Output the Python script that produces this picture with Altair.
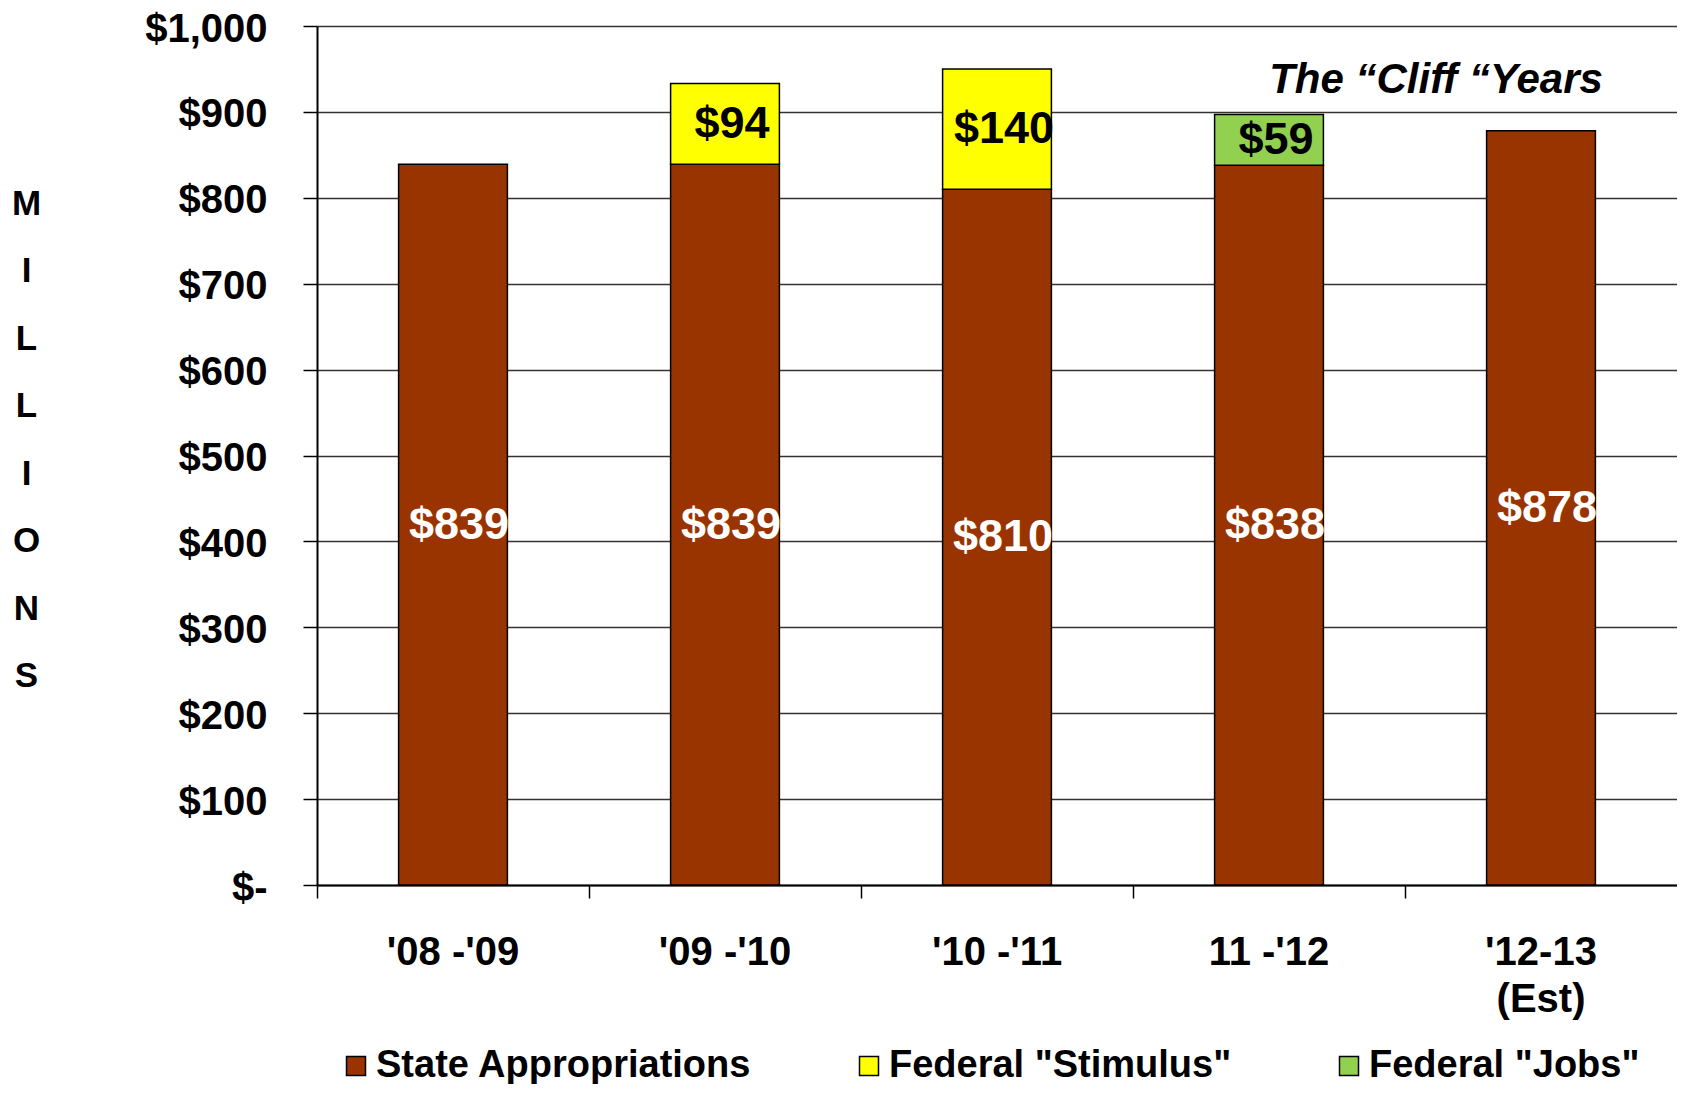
import altair as alt
import pandas as pd

# ---- data ----
categories = ["'08 -'09", "'09 -'10", "'10 -'11", "11 -'12", "'12-13|(Est)"]
state = [839, 839, 810, 838, 878]
stimulus = [0, 94, 140, 0, 0]
jobs = [0, 0, 0, 59, 0]
series_names = ["State Appropriations", 'Federal "Stimulus"', 'Federal "Jobs"']
series_colors = ["#993300", "#FFFF00", "#92D050"]
y_ticks = [0, 100, 200, 300, 400, 500, 600, 700, 800, 900, 1000]
y_title = ["M", "I", "L", "L", "I", "O", "N", "S"]
note_text = "The \u201cCliff \u201cYears"
note_cat = categories[4]
note_value = 937

rows = []
for i, c in enumerate(categories):
    for k, (name, vals) in enumerate(zip(series_names, [state, stimulus, jobs])):
        if vals[i] > 0:
            rows.append({"cat": c, "series": name, "value": vals[i], "order": k})
df = pd.DataFrame(rows)

FONT = "Liberation Sans"

x_scale = alt.Scale(domain=categories, paddingInner=0, paddingOuter=0)
y_scale = alt.Scale(domain=[0, 1000], nice=False, zero=True)

x_axis = alt.Axis(
    title=None,
    labelExpr="split(datum.label, '|')",
    labelAngle=0,
    labelFont=FONT,
    labelFontSize=40,
    labelFontWeight="bold",
    labelColor="black",
    labelPadding=34,
    labelLineHeight=47,
    labelBaseline="top",
    tickSize=13,
    tickColor="black",
    tickWidth=1.5,
    bandPosition=0,
    domainColor="black",
    domainWidth=2,
    grid=False,
)

y_axis = alt.Axis(
    title=y_title,
    titleAngle=0,
    titleX=-291,
    titleY=177,
    titleAlign="center",
    titleBaseline="middle",
    titleFont=FONT,
    titleFontSize=35,
    titleFontWeight="bold",
    titleLineHeight=67.5,
    titleColor="black",
    values=y_ticks,
    labelExpr="datum.value == 0 ? '$-' : '$' + format(datum.value, ',')",
    labelFont=FONT,
    labelFontSize=40,
    labelFontWeight="bold",
    labelColor="black",
    labelPadding=36,
    labelOffset=3,
    tickSize=14,
    tickColor="black",
    tickWidth=1.5,
    domainColor="black",
    domainWidth=2,
    grid=True,
    gridColor="#333333",
    gridWidth=1.5,
)

bars = alt.Chart(df).mark_bar(
    stroke="black", strokeWidth=1.5, width=alt.RelativeBandSize(0.4)
).encode(
    x=alt.X("cat:N", sort=categories, scale=x_scale, axis=x_axis),
    y=alt.Y("value:Q", stack="zero", scale=y_scale, axis=y_axis),
    color=alt.Color(
        "series:N",
        scale=alt.Scale(domain=series_names, range=series_colors),
        legend=alt.Legend(
            title=None,
            orient="none",
            legendX=20,
            legendY=1021,
            direction="horizontal",
            symbolType="square",
            symbolSize=361,
            symbolStrokeColor="black",
            symbolStrokeWidth=1.5,
            symbolOpacity=1,
            labelFont=FONT,
            labelFontSize=38,
            labelFontWeight="bold",
            labelColor="black",
            labelOffset=1,
            labelLimit=700,
            columnPadding=98,
            padding=0,
        ),
    ),
    order=alt.Order("order:Q", sort="ascending"),
)

base = alt.Chart(df).transform_stack(
    stack="value", groupby=["cat"], as_=["y0", "y1"], sort=[alt.SortField("order")]
).transform_calculate(mid="(datum.y0 + datum.y1) / 2", lbl="'$' + datum.value")

tx = alt.X("cat:N", sort=categories, scale=x_scale, axis=x_axis)
ty = alt.Y("mid:Q", scale=y_scale, axis=y_axis)

state_text = base.transform_filter("datum.order == 0").mark_text(
    font=FONT, fontSize=45, fontWeight="bold", color="white", dx=6, baseline="middle"
).encode(x=tx, y=ty, text="lbl:N")

fed_text = base.transform_filter("datum.order > 0").mark_text(
    font=FONT, fontSize=45, fontWeight="bold", color="black", dx=7, baseline="middle"
).encode(x=tx, y=ty, text="lbl:N")

note = alt.Chart(pd.DataFrame({"t": [note_text]})).mark_text(
    font=FONT, fontSize=42, fontWeight="bold", fontStyle="italic", color="black",
    dx=-105, baseline="middle", align="center"
).encode(
    x=alt.X(datum=note_cat, type="nominal", scale=x_scale, axis=x_axis),
    y=alt.Y(datum=note_value, type="quantitative", scale=y_scale, axis=y_axis),
    text="t:N",
)

chart = alt.layer(bars, state_text, fed_text, note).properties(
    width=1360,
    height=859,
    autosize=alt.AutoSizeParams(type="none"),
    padding={"left": 309, "top": 18, "right": 0, "bottom": 199},
    background="white",
).configure_view(stroke=None)

chart.save("out.html", embed_options={"renderer": "svg", "actions": False})
